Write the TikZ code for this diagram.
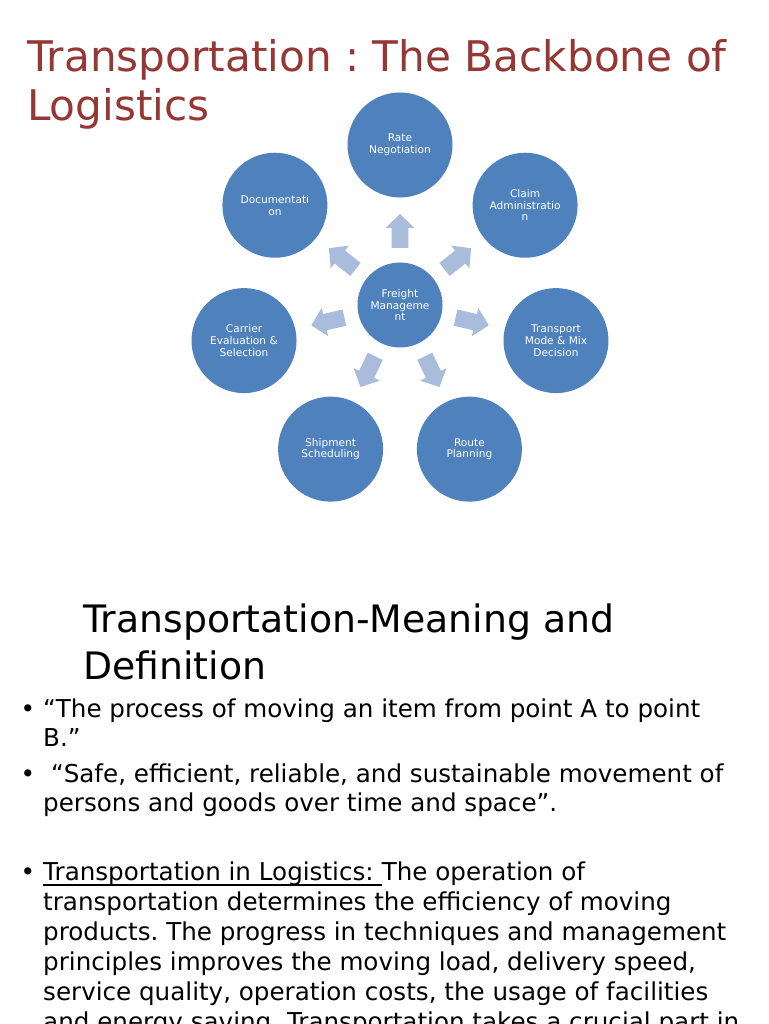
\documentclass[tikz,border=0pt]{standalone}
\usepackage{fontspec}
\setmainfont{DejaVu Sans}
\usetikzlibrary{calc}
\definecolor{titlered}{HTML}{953735}
\definecolor{circblue}{HTML}{4F81BD}
\definecolor{arrblue}{HTML}{A9BCDC}
\frenchspacing
\begin{document}
\begin{tikzpicture}[x=1pt,y=1pt,
  bubble/.style={circle, fill=circblue, inner sep=0pt, minimum size=105pt, text=white, align=center, font=\fontsize{10.6}{11.7}\selectfont},
  hub/.style={bubble, minimum size=85pt},
  txt/.style={inner sep=0pt, anchor=base west},
  titletxt/.style={txt, text=titlered, font=\fontsize{42.2}{48}\selectfont},
  headtxt/.style={txt, font=\fontsize{37.8}{46}\selectfont},
  body/.style={txt, font=\fontsize{24.6}{30}\selectfont},
  bul/.style={inner sep=0pt, anchor=base, font=\fontsize{24.6}{30}\selectfont},
  blockarrow/.style={fill=arrblue}
]
\useasboundingbox (0,0) rectangle (768,1024);
\fill[white] (0,0) rectangle (768,1024);

% title
\node[titletxt] (t1) at (27,952) {Transportation : The Backbone of};
\node[titletxt] (t2) at (27,903) {Logistics};

% diagram
\node[hub] (Fm) at (400,719) {Freight\\Manageme\\nt};
\node[bubble] (rate) at ($(Fm.center)+(90:160)$) {Rate\\Negotiation};
\node[bubble] (claim) at ($(Fm.center)+(38.57:160)$) {Claim\\Administratio\\n};
\node[bubble] (mode) at ($(Fm.center)+(-12.86:160)$) {Transport\\Mode \& Mix\\Decision};
\node[bubble] (route) at ($(Fm.center)+(-64.29:160)$) {Route\\Planning};
\node[bubble] (ship) at ($(Fm.center)+(-115.71:160)$) {Shipment\\Scheduling};
\node[bubble] (carrier) at ($(Fm.center)+(-167.14:160)$) {Carrier\\Evaluation \&\\Selection};
\node[bubble] (doc) at ($(Fm.center)+(141.43:160)$) {Documentati\\on};

\foreach \a in {90,38.57,-12.86,-64.29,-115.71,-167.14,141.43}{
  \fill[blockarrow, shift={(Fm.center)}, rotate=\a]
    (57,-8.3) -- (77,-8.3) -- (77,-14.5) -- (91,0) -- (77,14.5) -- (77,8.3) -- (57,8.3) -- cycle;
}

% heading
\node[headtxt] (h1) at (83,391) {Transportation-Meaning and};
\node[headtxt] (h2) at (83,344) {Definition};

% bullets
\node[bul] (b1) at (28,306) {•};
\node[body] (l1) at (43,306) {“The process of moving an item from point A to point};
\node[body] (l2) at (43,277) {B.”};
\node[bul] (b2) at (28,241) {•};
\node[body] (l3) at (43,241) {\ “Safe, efficient, reliable, and sustainable movement of};
\node[body] (l4) at (43,212) {persons and goods over time and space”.};
\node[bul] (b3) at (28,143) {•};
\node[body] (l5a) at (43,143) {Transportation in Logistics:\ \mbox{}};
\node[body, anchor=base west] (l5b) at (l5a.base east) {The operation of};
\draw[line width=1.7pt] ([yshift=-4pt]l5a.base west) -- ([yshift=-4pt]l5a.base east);
\node[body] (l6) at (43,113) {transportation determines the efficiency of moving};
\node[body] (l7) at (43,83) {products. The progress in techniques and management};
\node[body] (l8) at (43,53) {principles improves the moving load, delivery speed,};
\node[body] (l9) at (43,23) {service quality, operation costs, the usage of facilities};
\node[body] (l10) at (43,-6) {and energy saving. Transportation takes a crucial part in};
\end{tikzpicture}
\end{document}
